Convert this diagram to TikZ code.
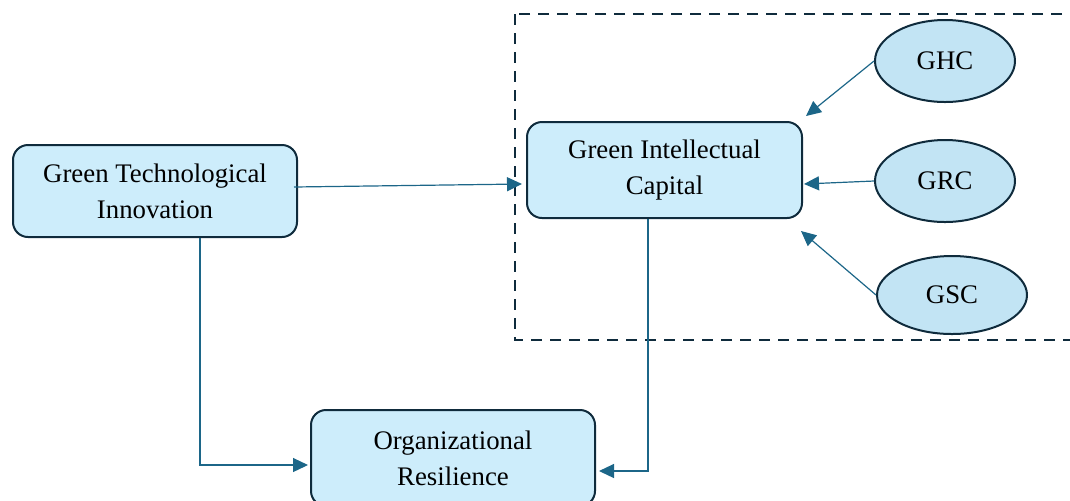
\documentclass[tikz,border=0pt]{standalone}
\usepackage{fontspec}
\setmainfont{Liberation Serif}
\usetikzlibrary{shapes.geometric,arrows.meta}

\definecolor{boxfill}{HTML}{CDEDFB}
\definecolor{ellfill}{HTML}{C2E4F4}
\definecolor{edge}{HTML}{0F2B3C}
\definecolor{link}{HTML}{1C6688}

\tikzset{
  box/.style={draw=edge, fill=boxfill, line width=1pt, rounded corners=7.5pt,
    align=center, inner sep=0pt, font=\fontsize{13.4}{18}\selectfont},
  oval/.style={ellipse, draw=edge, fill=ellfill, line width=1pt, inner sep=0pt,
    font=\fontsize{13.4}{16}\selectfont},
  conn/.style={draw=link, line width=0.6pt, -{Triangle[length=7.5pt,width=7pt]}},
  dashbox/.style={draw=edge, line width=1.4pt, dash pattern=on 5.5pt off 4pt}
}

\begin{document}
\begin{tikzpicture}[x=0.5pt, y=-0.5pt]

\useasboundingbox (0,0) rectangle (1070,500);

% group of the three parts
\draw[dashbox] (515,14) rectangle (1080,340);

\node[box, minimum width=142pt, minimum height=46pt] (gti) at (155,191)
  {Green Technological\\Innovation};
\node[box, minimum width=137.5pt, minimum height=48pt] (gic) at (664.5,170)
  {Green Intellectual\\Capital};
\node[box, minimum width=142pt, minimum height=48pt] (or) at (453,458)
  {Organizational\\Resilience};

\node[oval, minimum width=70pt, minimum height=41pt] (ghc) at (945,61) {GHC};
\node[oval, minimum width=70pt, minimum height=41pt] (grc) at (945,181) {GRC};
\node[oval, minimum width=75pt, minimum height=39pt] (gsc) at (952,295) {GSC};

\draw[conn] ([shift={(-2pt,2pt)}]gti.east) -- ([shift={(-2pt,-7pt)}]gic.west);

\draw[conn] (ghc.west) -- ([shift={(1.5pt,2.5pt)}]gic.north east);
\draw[conn] (grc.west) -- ([shift={(0.5pt,-7pt)}]gic.east);
\draw[conn] (gsc.west) -- ([shift={(-1pt,-6pt)}]gic.south east);

\draw[conn] ([xshift=22.5pt]gti.south) |- ([shift={(-1pt,-3.5pt)}]or.west);
\draw[conn] ([xshift=-8.25pt]gic.south) |- ([shift={(1.5pt,-6.5pt)}]or.east);

\end{tikzpicture}
\end{document}
